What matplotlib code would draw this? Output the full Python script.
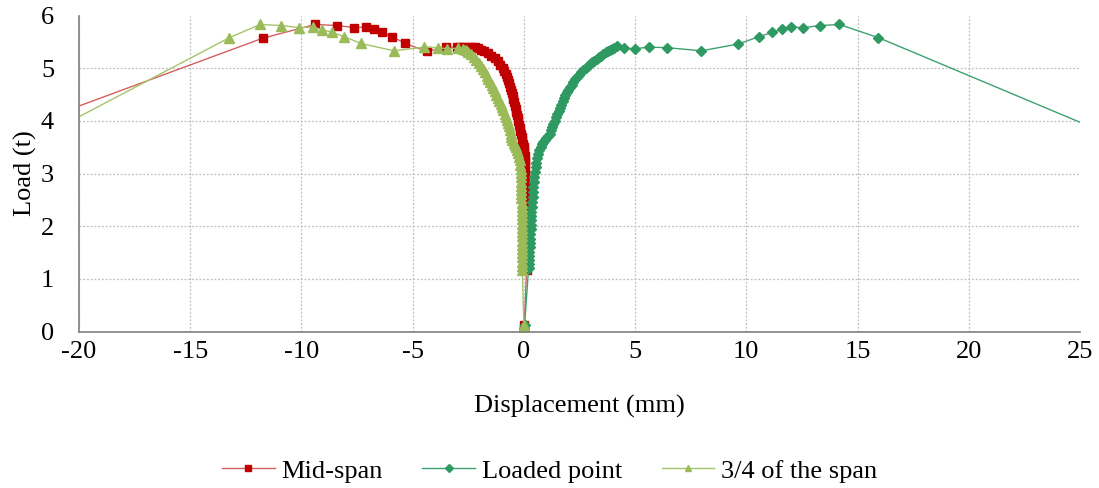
import matplotlib.pyplot as plt

plt.rcParams['font.family'] = ['Liberation Serif', 'DejaVu Serif']
plt.rcParams['axes.unicode_minus'] = False

# Mid-span (red squares)
mid_x = [0.00, 0.01, 0.02,
         0.12, 0.12, 0.12, 0.12, 0.11, 0.11, 0.11, 0.11, 0.11, 0.10,
         0.10, 0.10, 0.10, 0.10, 0.09, 0.09, 0.09, 0.09, 0.08, 0.08,
         0.08, 0.07, 0.07, 0.06, 0.06, 0.05, 0.04, 0.03, 0.02, 0.00,
         -0.03, -0.07, -0.10, -0.13, -0.16, -0.19, -0.22, -0.25, -0.28, -0.31,
         -0.34, -0.37, -0.40, -0.43, -0.47, -0.50, -0.54, -0.58, -0.62, -0.66,
         -0.70, -0.76, -0.82, -0.88, -0.96, -1.06, -1.18, -1.32, -1.48, -1.62,
         -1.78, -1.92, -2.05, -2.20, -2.35, -2.50, -2.70, -2.85,
         -3.02, -3.52, -4.37, -5.33, -5.93, -6.38, -6.74, -7.11, -7.62, -8.39,
         -9.39, -11.74, -24.0]
mid_y = [0.00, 0.06, 0.12,
         1.18, 1.26, 1.34, 1.42, 1.50, 1.58, 1.66, 1.74, 1.82, 1.90,
         1.98, 2.06, 2.14, 2.22, 2.30, 2.38, 2.46, 2.54, 2.62, 2.70,
         2.78, 2.86, 2.94, 3.02, 3.10, 3.18, 3.26, 3.34, 3.42, 3.50,
         3.57, 3.63, 3.69, 3.75, 3.81, 3.87, 3.93, 3.99, 4.05, 4.11,
         4.17, 4.23, 4.29, 4.35, 4.41, 4.47, 4.53, 4.59, 4.65, 4.71,
         4.77, 4.83, 4.89, 4.95, 5.01, 5.07, 5.13, 5.19, 5.24, 5.28,
         5.32, 5.35, 5.38, 5.40, 5.41, 5.41, 5.40, 5.40,
         5.40, 5.40, 5.32, 5.47, 5.60, 5.68, 5.74, 5.78, 5.77, 5.81,
         5.83, 5.57, 3.66]

# Loaded point (green diamonds)
load_x = [0.00, 0.02, 0.03,
          0.21, 0.22, 0.23, 0.24, 0.25, 0.26, 0.27, 0.28, 0.29, 0.30,
          0.31, 0.32, 0.33, 0.34, 0.35, 0.37, 0.39, 0.41, 0.43, 0.45,
          0.47, 0.50, 0.53, 0.56, 0.60, 0.65, 0.70, 0.76, 0.82, 0.87,
          0.93, 1.00, 1.08, 1.16, 1.22, 1.28, 1.33, 1.39, 1.45, 1.51,
          1.57, 1.62, 1.68, 1.74, 1.80, 1.87, 1.94, 2.00, 2.07, 2.15,
          2.23, 2.31, 2.40, 2.49, 2.58, 2.67, 2.77, 2.87, 2.97, 3.07,
          3.17, 3.27, 3.37, 3.47, 3.57, 3.67, 3.77, 3.87, 3.97, 4.07, 4.20,
          4.50, 5.00, 5.61, 6.44, 7.98, 9.64, 10.58, 11.16, 11.61, 12.00,
          12.56, 13.33, 14.18, 15.94, 27.0]
load_y = [0.00, 0.06, 0.12,
          1.20, 1.28, 1.36, 1.44, 1.52, 1.60, 1.68, 1.76, 1.85, 1.94,
          2.03, 2.12, 2.20, 2.28, 2.36, 2.46, 2.56, 2.66, 2.75, 2.84,
          2.93, 3.03, 3.12, 3.21, 3.30, 3.38, 3.45, 3.51, 3.56, 3.60,
          3.63, 3.67, 3.71, 3.76, 3.82, 3.88, 3.94, 4.00, 4.07, 4.13,
          4.19, 4.25, 4.31, 4.37, 4.43, 4.49, 4.54, 4.59, 4.64, 4.69,
          4.74, 4.79, 4.84, 4.88, 4.92, 4.96, 5.00, 5.04, 5.08, 5.11,
          5.14, 5.18, 5.21, 5.24, 5.27, 5.30, 5.32, 5.35, 5.37, 5.39, 5.42,
          5.38, 5.37, 5.40, 5.39, 5.33, 5.46, 5.60, 5.68, 5.74, 5.78,
          5.77, 5.81, 5.83, 5.58, 3.62]

# 3/4 of the span (yellow-green triangles)
quarter_x = [0.00, -0.01, 0.00,
             -0.07, -0.07, -0.07, -0.07, -0.08, -0.08, -0.08, -0.08, -0.08, -0.09,
             -0.09, -0.09, -0.09, -0.10, -0.10, -0.10, -0.10, -0.11, -0.11, -0.11,
             -0.12, -0.12, -0.13, -0.14, -0.15, -0.16, -0.18, -0.21, -0.25, -0.29,
             -0.34, -0.40, -0.46, -0.52, -0.57, -0.60, -0.64, -0.69, -0.73, -0.78,
             -0.82, -0.87, -0.92, -0.98, -1.04, -1.10, -1.17, -1.24, -1.31, -1.38,
             -1.45, -1.52, -1.60, -1.68, -1.76, -1.85, -1.94, -2.04, -2.14, -2.26,
             -2.38, -2.50, -2.62, -2.75,
             -2.95, -3.44, -3.88, -4.48, -5.84, -7.32, -8.10, -8.61, -9.06, -9.47,
             -10.10, -10.90, -11.85, -13.24, -24.0]
quarter_y = [0.00, 0.06, 0.12,
             1.17, 1.25, 1.33, 1.41, 1.49, 1.57, 1.65, 1.73, 1.81, 1.89,
             1.97, 2.05, 2.13, 2.21, 2.29, 2.37, 2.45, 2.53, 2.61, 2.69,
             2.77, 2.85, 2.93, 3.01, 3.09, 3.17, 3.25, 3.32, 3.39, 3.45,
             3.50, 3.54, 3.58, 3.63, 3.69, 3.76, 3.83, 3.90, 3.96, 4.02,
             4.08, 4.14, 4.20, 4.26, 4.32, 4.38, 4.44, 4.50, 4.56, 4.62,
             4.68, 4.74, 4.80, 4.86, 4.92, 4.98, 5.04, 5.10, 5.16, 5.22,
             5.27, 5.31, 5.34, 5.36,
             5.38, 5.37, 5.39, 5.40, 5.33, 5.47, 5.60, 5.68, 5.73, 5.78,
             5.77, 5.81, 5.83, 5.58, 3.19]

fig = plt.figure(figsize=(10.99, 4.88), dpi=100)
ax = fig.add_axes([0.0719, 0.3203, 0.9108, 0.6479])

ax.plot(mid_x, mid_y, color='#D35F5F', lw=1.0, marker='s', markersize=6,
        markerfacecolor='#C00000', markeredgecolor='#C00000', label='Mid-span')
ax.plot(load_x, load_y, color='#3DA271', lw=1.0, marker='D', markersize=5.5,
        markerfacecolor='#2E9A62', markeredgecolor='#2E9A62', label='Loaded point')
ax.plot(quarter_x, quarter_y, color='#A5C46A', lw=1.0, marker='^', markersize=6.5,
        markerfacecolor='#9BBB59', markeredgecolor='#9BBB59', label='3/4 of the span')

ax.set_xlim(-20, 25)
ax.set_ylim(0, 6)
ax.set_xticks(range(-20, 26, 5))
ax.set_yticks(range(0, 7))

ax.grid(True, color='#BFBFBF', linestyle=(0, (1.5, 1.5)), lw=0.9)
ax.set_axisbelow(True)
# no gridline on the top / right edges
for line, loc in zip(ax.yaxis.get_gridlines(), ax.get_yticks()):
    if loc == 6:
        line.set_visible(False)
for line, loc in zip(ax.xaxis.get_gridlines(), ax.get_xticks()):
    if loc == 25:
        line.set_visible(False)

for s in ['top', 'right']:
    ax.spines[s].set_visible(False)
for s in ['left', 'bottom']:
    ax.spines[s].set_color('#808080')
    ax.spines[s].set_linewidth(1.2)

ax.tick_params(axis='both', length=0, labelsize=19)
ax.tick_params(axis='x', pad=7)
ax.tick_params(axis='y', pad=18)

ax.set_xlabel('Displacement (mm)', fontsize=19, labelpad=23)
ax.set_ylabel('Load (t)', fontsize=19, labelpad=3)

fig.legend(loc='center', bbox_to_anchor=(0.5, 0.035), ncol=3, frameon=False,
           fontsize=19, handlelength=2.0, handletextpad=0.25, columnspacing=1.5,
           markerscale=0.7)

fig.savefig('out.png', dpi=100)
